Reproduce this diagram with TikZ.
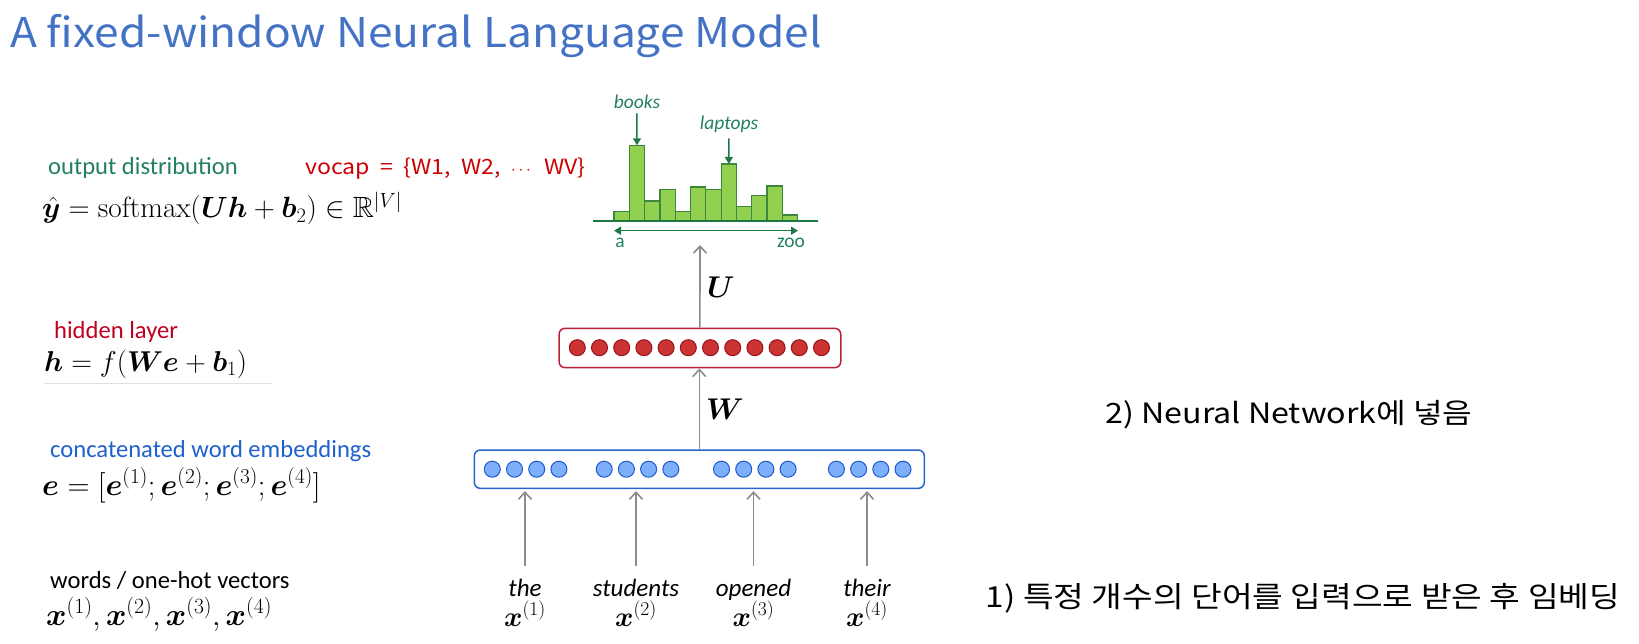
\documentclass[tikz,border=0pt]{standalone}
\usepackage{fix-cm}
\usepackage{amsmath, amssymb, bm}
\usepackage[no-math]{fontspec}
\setmainfont{Carlito}
\newfontfamily\krfont[FakeStretch=1.15]{Noto Sans CJK KR}
\newfontfamily\titlefont[FakeStretch=1.08]{Noto Sans CJK KR}
\newfontfamily\vocfont[FakeStretch=1.1, WordSpace=2]{Noto Sans CJK KR}
\usepackage{xcolor}
\usetikzlibrary{positioning, arrows.meta}

\definecolor{titleblue}{RGB}{68,114,196}
\definecolor{distgreen}{RGB}{34,128,96}
\definecolor{hidred}{RGB}{192,0,30}
\definecolor{vocred}{RGB}{204,0,0}
\definecolor{embblue}{RGB}{30,96,204}
\definecolor{barfill}{RGB}{146,208,80}
\definecolor{bardraw}{RGB}{60,135,60}
\definecolor{axisgreen}{RGB}{30,120,70}
\definecolor{arrowgray}{RGB}{140,140,140}
\definecolor{redfill}{RGB}{204,51,51}
\definecolor{reddraw}{RGB}{150,20,30}
\definecolor{hidbox}{RGB}{185,30,55}
\definecolor{bluefill}{RGB}{125,175,250}
\definecolor{bluedraw}{RGB}{30,90,205}
\definecolor{embbox}{RGB}{40,100,205}

\begin{document}
\begin{tikzpicture}[x=1pt, y=-1pt, node distance=6.2pt,
    lefttext/.style={anchor=base west, inner sep=0pt, font=\fontsize{24.6}{28}\selectfont},
    formula/.style={anchor=base west, inner sep=0pt, font=\fontsize{28}{34}\selectfont},
    layerbox/.style={draw, rounded corners=6pt, line width=1.5pt, fill=white},
    hunit/.style={circle, draw=reddraw, fill=redfill, line width=1pt, minimum size=16pt, inner sep=0pt, outer sep=0pt},
    eunit/.style={circle, draw=bluedraw, fill=bluefill, line width=1pt, minimum size=16pt, inner sep=0pt, outer sep=0pt},
    bar/.style={draw=bardraw, fill=barfill, line width=1.2pt, minimum width=15.3pt, anchor=south west, inner sep=0pt, outer sep=0pt},
    flow/.style={draw=arrowgray, line width=1.6pt, -{Straight Barb[length=7pt, width=13pt]}},
    pointer/.style={draw=axisgreen, line width=1.5pt, -{Triangle[length=7pt, width=8pt]}},
    word/.style={anchor=base, inner sep=0pt, font=\fontsize{25}{28}\selectfont\itshape},
    histtext/.style={anchor=base, inner sep=0pt, text=distgreen},
    kortext/.style={anchor=base, inner sep=0pt, font=\krfont\fontsize{28}{34}\selectfont}]
    \useasboundingbox (0,0) rectangle (1639,644);

    \node[anchor=base west, inner sep=0pt, text=titleblue, font=\titlefont\fontsize{41}{48}\selectfont] (title) at (10,48) {A fixed-window Neural Language Model};

    % left column
    \node[lefttext, text=distgreen] (outlbl) at (48,175) {output distribution};
    \node[formula, font=\fontsize{29.3}{34}\selectfont] (outeq) at (42,218) {$\hat{\bm{y}} = \mathrm{softmax}(\bm{U}\bm{h} + \bm{b}_2) \in \mathbb{R}^{|V|}$};
    \node[anchor=base west, inner sep=0pt, text=vocred, font=\vocfont\fontsize{21}{26}\selectfont] (vocab) at (305,175) {vocap = \{W1, W2, {\fontsize{17}{20}\selectfont$\cdots$} WV\}};
    \node[lefttext, text=hidred] (hidlbl) at (54,339) {hidden layer};
    \node[formula, font=\fontsize{28.7}{34}\selectfont] (hideq) at (44,371) {$\bm{h} = f(\bm{W}\bm{e} + \bm{b}_1)$};
    \draw[black!12, line width=1pt] ([yshift=-12pt]hideq.base west) -- ++(228,0);
    \node[lefttext, text=embblue] (emblbl) at (50,457) {concatenated word embeddings};
    \node[formula, font=\fontsize{30.5}{34}\selectfont] (embeq) at (42,495) {$\bm{e} = [\bm{e}^{(1)}; \bm{e}^{(2)}; \bm{e}^{(3)}; \bm{e}^{(4)}]$};
    \node[lefttext] (inlbl) at (50,588) {words / one-hot vectors};
    \node[formula, font=\fontsize{31}{34}\selectfont] (ineq) at (46,625) {$\bm{x}^{(1)}, \bm{x}^{(2)}, \bm{x}^{(3)}, \bm{x}^{(4)}$};

    % output histogram
    \node[bar, minimum height=9pt] (b1) at (614,220.7) {};
    \node[bar, minimum height=75.4pt] (b2) at (b1.south east) {};
    \node[bar, minimum height=19.7pt] (b3) at (b2.south east) {};
    \node[bar, minimum height=31.4pt] (b4) at (b3.south east) {};
    \node[bar, minimum height=9pt] (b5) at (b4.south east) {};
    \node[bar, minimum height=33.7pt] (b6) at (b5.south east) {};
    \node[bar, minimum height=31.4pt] (b7) at (b6.south east) {};
    \node[bar, minimum height=56.7pt] (b8) at (b7.south east) {};
    \node[bar, minimum height=14pt] (b9) at (b8.south east) {};
    \node[bar, minimum height=25.4pt] (b10) at (b9.south east) {};
    \node[bar, minimum height=34.7pt] (b11) at (b10.south east) {};
    \node[bar, minimum height=5.7pt] (b12) at (b11.south east) {};
    \coordinate (axl) at (593,220.7);
    \coordinate (axr) at (818,220.7);
    \draw[axisgreen, line width=2pt] (axl) -- (axr);
    \coordinate (al) at (614,230.7);
    \coordinate (ar) at (798,230.7);
    \draw[pointer, {Triangle[length=7pt, width=8pt]}-{Triangle[length=7pt, width=8pt]}] (al) -- (ar);
    \node[histtext, font=\fontsize{19.5}{22}\selectfont] (afirst) at (620,248) {a};
    \node[histtext, font=\fontsize{19.5}{22}\selectfont] (zoo) at (791,248) {zoo};
    \node[histtext, font=\fontsize{19.5}{23}\selectfont\itshape] (books) at (637,109) {books};
    \node[histtext, font=\fontsize{19.5}{23}\selectfont\itshape] (laptops) at (729,130) {laptops};
    \draw[pointer, shorten <=4pt] (books) -- (b2);
    \draw[pointer, shorten <=5pt] (laptops) -- (b8);

    % hidden layer
    \node[layerbox, draw=hidbox, minimum width=281.7pt, minimum height=39.4pt] (hid) at (699.9,348) {};
    \node[hunit] (h1) at (577.3,347.7) {};
    \node[hunit, right=of h1] (h2) {};
    \node[hunit, right=of h2] (h3) {};
    \node[hunit, right=of h3] (h4) {};
    \node[hunit, right=of h4] (h5) {};
    \node[hunit, right=of h5] (h6) {};
    \node[hunit, right=of h6] (h7) {};
    \node[hunit, right=of h7] (h8) {};
    \node[hunit, right=of h8] (h9) {};
    \node[hunit, right=of h9] (h10) {};
    \node[hunit, right=of h10] (h11) {};
    \node[hunit, right=of h11] (h12) {};

    % embedding layer
    \node[layerbox, draw=embbox, minimum width=450pt, minimum height=38.3pt] (emb) at (699.3,469.2) {};
    \node[eunit] (e1) at (492.3,469.2) {};
    \node[eunit, right=of e1] (e2) {};
    \node[eunit, right=of e2] (e3) {};
    \node[eunit, right=of e3] (e4) {};
    \node[eunit, right=29.3pt of e4] (e5) {};
    \node[eunit, right=of e5] (e6) {};
    \node[eunit, right=of e6] (e7) {};
    \node[eunit, right=of e7] (e8) {};
    \node[eunit, right=34.7pt of e8] (e9) {};
    \node[eunit, right=of e9] (e10) {};
    \node[eunit, right=of e10] (e11) {};
    \node[eunit, right=of e11] (e12) {};
    \node[eunit, right=32.3pt of e12] (e13) {};
    \node[eunit, right=of e13] (e14) {};
    \node[eunit, right=of e14] (e15) {};
    \node[eunit, right=of e15] (e16) {};

    % weights
    \coordinate (ytop) at (700,245);
    \draw[flow] (hid.north) -- (ytop);
    \node[anchor=west, inner sep=0pt, font=\fontsize{30}{36}\selectfont] (ulbl) at (707,287) {$\bm{U}$};
    \draw[flow] (emb.north) -- (emb.north |- hid.south);
    \node[anchor=west, inner sep=0pt, font=\fontsize{30}{36}\selectfont] (wlbl) at (706,409) {$\bm{W}$};

    % input words
    \node[word] (w1) at (525,596) {the};
    \node[word] (w2) at (636,596) {students};
    \node[word] (w3) at (753.5,596) {opened};
    \node[word] (w4) at (867,596) {their};
    \node[formula, anchor=base] (x1) at (525,626) {$\bm{x}^{(1)}$};
    \node[formula, anchor=base] (x2) at (636,626) {$\bm{x}^{(2)}$};
    \node[formula, anchor=base] (x3) at (753.5,626) {$\bm{x}^{(3)}$};
    \node[formula, anchor=base] (x4) at (867,626) {$\bm{x}^{(4)}$};
    \draw[flow, shorten <=12.5pt, shorten >=2pt] (w1.north) -- (w1.north |- emb.south);
    \draw[flow, shorten <=12.5pt, shorten >=2pt] (w2.north) -- (w2.north |- emb.south);
    \draw[flow, shorten <=12.5pt, shorten >=2pt] (w3.north) -- (w3.north |- emb.south);
    \draw[flow, shorten <=12.5pt, shorten >=2pt] (w4.north) -- (w4.north |- emb.south);

    % notes
    \node[kortext] (step2) at (1289,423) {2) Neural Network에 넣음};
    \node[kortext, font=\krfont\fontsize{29}{34}\selectfont] (step1) at (1303,607) {1) 특정 개수의 단어를 입력으로 받은 후 임베딩};
\end{tikzpicture}
\end{document}
